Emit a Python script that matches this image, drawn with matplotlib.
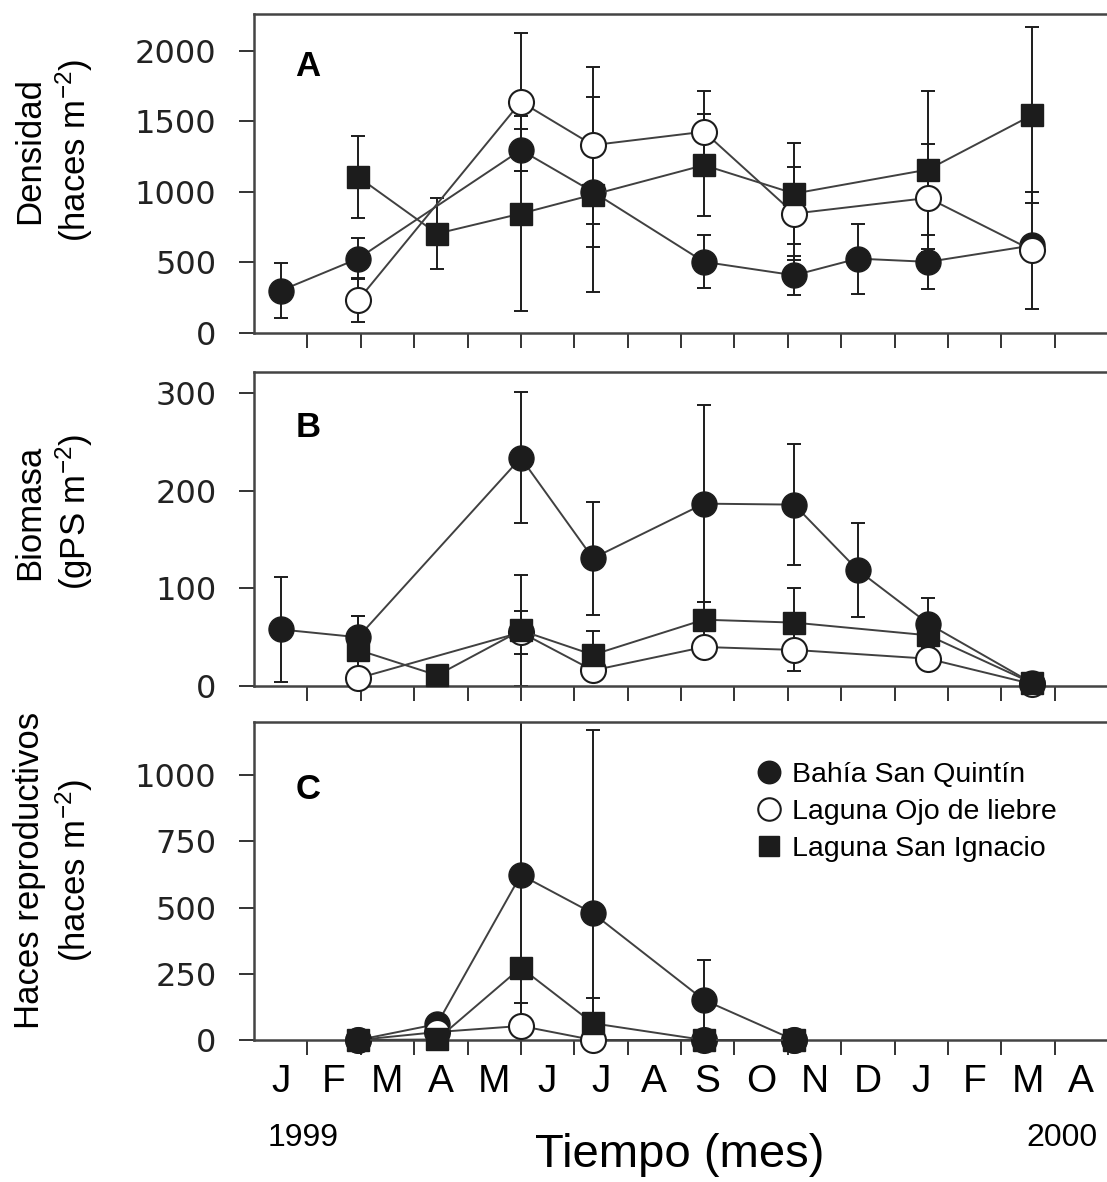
import numpy as np
import matplotlib
matplotlib.use('Agg')
import matplotlib.pyplot as plt
from matplotlib.lines import Line2D

plt.rcParams['font.family'] = ['Liberation Sans', 'DejaVu Sans']
plt.rcParams['mathtext.fontset'] = 'custom'
plt.rcParams['mathtext.rm'] = 'Liberation Sans'
plt.rcParams['mathtext.it'] = 'Liberation Sans'

# fechas de muestreo (meses desde enero 1999)
meses = ['J', 'F', 'M', 'A', 'M', 'J', 'J', 'A', 'S', 'O', 'N', 'D', 'J', 'F', 'M', 'A']
sitios = ['Bahía San Quintín', 'Laguna Ojo de liebre', 'Laguna San Ignacio']

# A - densidad
dens_bsq_x = [0.5, 1.95, 5.0, 6.35, 8.43, 10.12, 11.31, 12.63, 14.58]
dens_bsq = [300, 527, 1296, 1000, 504, 409, 527, 504, 620]
dens_bsq_err = [195, 145, 150, 390, 187, 140, 248, 190, 60]
dens_lol_x = [1.95, 5.0, 6.35, 8.43, 10.12, 12.63, 14.58]
dens_lol = [232, 1638, 1331, 1426, 846, 957, 586]
dens_lol_err = [155, 490, 556, 290, 330, 380, 413]
dens_lsi_x = [1.95, 3.43, 5.0, 6.35, 8.43, 10.12, 12.63, 14.58]
dens_lsi = [1106, 704, 846, 980, 1189, 988, 1158, 1544]
dens_lsi_err = [290, 250, 690, 690, 360, 355, 560, 626]

# B - biomasa
bio_bsq_x = [0.5, 1.95, 5.0, 6.35, 8.43, 10.12, 11.31, 12.63, 14.58]
bio_bsq = [58, 50, 234, 131, 187, 186, 119, 64, 3]
bio_bsq_err = [54, 22, 67, 58, 101, 62, 48, 26, 2]
bio_lol_x = [1.95, 5.0, 6.35, 8.43, 10.12, 12.63, 14.58]
bio_lol = [8, 55, 16, 40, 37, 28, 2]
bio_lol_err = [5, 22, 8, 8, 22, 12, 1]
bio_lsi_x = [1.95, 3.43, 5.0, 6.35, 8.43, 10.12, 12.63, 14.58]
bio_lsi = [37, 11, 57, 32, 68, 65, 52, 3]
bio_lsi_err = [35, 4, 57, 24, 18, 35, 15, 2]

# C - haces reproductivos
rep_x = [1.95, 3.43, 5.0, 6.35, 8.43, 10.12]
rep_bsq = [0, 60, 623, 478, 151, 0]
rep_bsq_err = [0, 15, 700, 692, 150, 0]
rep_lol = [0, 30, 53, 0, 0, 0]
rep_lol_err = [0, 0, 85, 0, 0, 0]
rep_lsi = [0, 2, 273, 63, 0, 0]
rep_lsi_err = [0, 0, 0, 97, 0, 0]

W, H = 1107, 1182
fig = plt.figure(figsize=(W / 100, H / 100), dpi=100)

negro = '#1c1c1c'
linea = '#404040'
estilos = [dict(marker='o', ms=18, mfc=negro, mec=negro),
           dict(marker='o', ms=18, mfc='white', mec=negro, mew=1.5),
           dict(marker='s', ms=16.5, mfc=negro, mec=negro)]


def panel(top, bottom, ylim, yticks, series, letra, ylabel, lab_y):
    ax = fig.add_axes([254 / W, 1 - bottom / H, 854 / W, (bottom - top) / H])
    # barras de error debajo de todos los simbolos
    for x, y, e in series:
        ax.errorbar(x, y, yerr=e, fmt='none', ecolor=negro, elinewidth=1.4,
                    capsize=5, capthick=1.4, zorder=1)
    for i, (x, y, e) in enumerate(series):
        ax.plot(x, y, color=linea, lw=1.4, zorder=2 + i, clip_on=False, **estilos[i])
    ax.set_xlim(0, 16)
    ax.set_ylim(*ylim)
    ax.set_yticks(yticks)
    ax.set_xticks(np.arange(1, 16))
    ax.set_xticklabels([])
    ax.tick_params(axis='both', which='major', direction='out', length=11, width=1.4,
                   color='#333333')
    ax.tick_params(axis='y', pad=16, labelsize=23)
    for lab in ax.get_yticklabels():
        lab.set_fontfamily('DejaVu Sans')
        lab.set_color('#222222')
    for s in ax.spines.values():
        s.set_linewidth(1.8)
        s.set_color('#444444')
    ax.text(54 / 854, letra[1], letra[0], transform=ax.transAxes, fontsize=25,
            fontweight='bold', ha='center', va='center')
    fig.text(54 / W, 1 - lab_y / H, ylabel, rotation=90, ha='center', va='center',
             fontsize=25, linespacing=1.25, multialignment='center')
    return ax


axA = panel(14, 333, (0, 2260), [0, 500, 1000, 1500, 2000],
            [(dens_bsq_x, dens_bsq, dens_bsq_err),
             (dens_lol_x, dens_lol, dens_lol_err),
             (dens_lsi_x, dens_lsi, dens_lsi_err)],
            ('A', 0.834), 'Densidad\n(haces m$^{-2}$)', 150)

axB = panel(372, 686, (0, 322), [0, 100, 200, 300],
            [(bio_bsq_x, bio_bsq, bio_bsq_err),
             (bio_lol_x, bio_lol, bio_lol_err),
             (bio_lsi_x, bio_lsi, bio_lsi_err)],
            ('B', 0.822), 'Biomasa\n(gPS m$^{-2}$)', 512)

axC = panel(722, 1040, (0, 1200), [0, 250, 500, 750, 1000],
            [(rep_x, rep_bsq, rep_bsq_err),
             (rep_x, rep_lol, rep_lol_err),
             (rep_x, rep_lsi, rep_lsi_err)],
            ('C', 0.789), 'Haces reproductivos\n(haces m$^{-2}$)', 870)

axC.set_xticks(np.arange(16) + 0.5, minor=True)
axC.set_xticklabels(meses, minor=True)
axC.tick_params(axis='x', which='minor', length=0, pad=17, labelsize=28)

handles = [Line2D([], [], linestyle='none', **estilos[i]) for i in range(3)]
axC.legend(handles, sitios, loc='upper left', bbox_to_anchor=(488 / 854, 0.92),
           frameon=False, fontsize=20.5, handlelength=0.9, handletextpad=0.35,
           labelspacing=0.4, markerscale=0.9, borderpad=0)

fig.text(303 / W, 1 - 1138 / H, '1999', fontsize=23, ha='center', va='center')
fig.text(1062 / W, 1 - 1138 / H, '2000', fontsize=23, ha='center', va='center')
fig.text(680 / W, 1 - 1155 / H, 'Tiempo (mes)', fontsize=34, ha='center', va='center')

fig.savefig('out.png', dpi=100)
